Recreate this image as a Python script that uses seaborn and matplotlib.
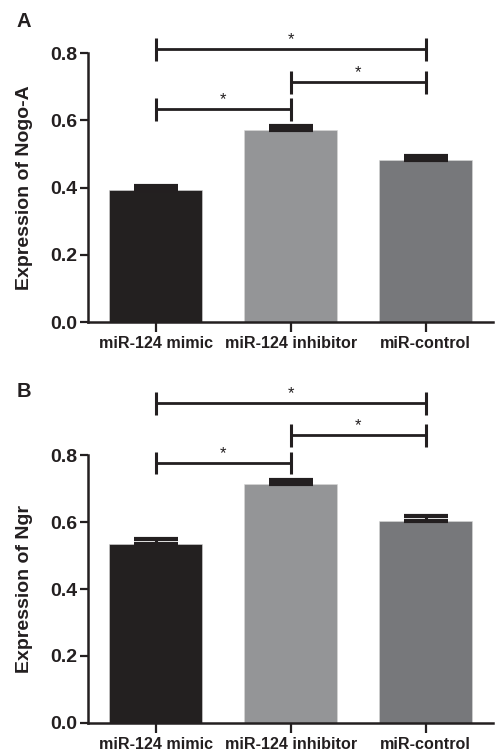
import numpy as np
import pandas as pd
import matplotlib
matplotlib.use("Agg")
import matplotlib.pyplot as plt
import seaborn as sns

# valors llegits de la figura
categories = ["miR-124 mimic", "miR-124 inhibitor", "miR-control"]
bar_colors = ["#231f20", "#939598", "#77787b"]

nogo_mean = [0.392, 0.570, 0.483]
nogo_sem = [0.012, 0.012, 0.012]
ngr_mean = [0.535, 0.713, 0.603]
ngr_sem = [0.014, 0.012, 0.014]

# claudators de significacio: (inici, final, altura)
nogo_brackets = [(0, 2, 0.811), (1, 2, 0.713), (0, 1, 0.633)]
ngr_brackets = [(0, 2, 0.954), (1, 2, 0.859), (0, 1, 0.776)]

sns.set_style("ticks")
plt.rcParams['font.family'] = ['Liberation Sans', 'DejaVu Sans']

fig = plt.figure(figsize=(4.95, 7.51), dpi=100)
ax_a = fig.add_axes([0.178, 0.5712, 0.818, 0.3582])
ax_b = fig.add_axes([0.178, 0.0373, 0.818, 0.3568])


def draw_panel(ax, means, sems, brackets, ylabel):
    df = pd.DataFrame({"group": categories, "value": means})
    sns.barplot(data=df, x="group", y="value", hue="group", order=categories,
                palette=bar_colors, width=0.69, legend=False, ax=ax,
                edgecolor="#d8d8d8", linewidth=0.4, zorder=2)
    # nomes error superior
    ax.errorbar(range(len(categories)), means,
                yerr=[np.zeros(len(sems)), sems], fmt="none",
                ecolor="#231f20", elinewidth=2.2, capsize=16, capthick=3,
                zorder=3)
    for i, j, y in brackets:
        ax.plot([i, j], [y, y], color="#231f20", lw=2.0, clip_on=False,
                solid_capstyle="butt")
        for x in (i, j):
            ax.plot([x, x], [y - 0.034, y + 0.034], color="#231f20", lw=2.2,
                    clip_on=False, solid_capstyle="butt")
        ax.text((i + j) / 2, y + 0.028, "*", ha="center", va="center",
                fontsize=12, color="#231f20")
    ax.set_xlim(-0.5, 2.5)
    ax.set_ylim(0, 0.8)
    ax.set_yticks([0.0, 0.2, 0.4, 0.6, 0.8])
    ax.set_yticklabels(["0.0", "0.2", "0.4", "0.6", "0.8"])
    ax.set_xlabel("")
    ax.set_ylabel(ylabel, fontsize=14, fontweight="bold", color="#231f20")
    ax.yaxis.set_label_coords(-0.136, 0.5)
    for s in ("top", "right"):
        ax.spines[s].set_visible(False)
    for s in ("left", "bottom"):
        ax.spines[s].set_linewidth(1.8)
        ax.spines[s].set_color("#231f20")
    ax.tick_params(axis="y", length=6, width=1.6, pad=2, labelsize=14,
                   colors="#231f20")
    ax.tick_params(axis="x", length=7, width=1.6, pad=3, labelsize=11.6,
                   colors="#231f20")
    for lab in ax.get_xticklabels() + ax.get_yticklabels():
        lab.set_fontweight("bold")


draw_panel(ax_a, nogo_mean, nogo_sem, nogo_brackets, "Expression of Nogo-A")
draw_panel(ax_b, ngr_mean, ngr_sem, ngr_brackets, "Expression of Ngr")

fig.text(0.034, 0.964, "A", fontsize=14.5, fontweight="bold", color="#231f20")
fig.text(0.034, 0.471, "B", fontsize=14.5, fontweight="bold", color="#231f20")

fig.savefig("out.png", dpi=100)
